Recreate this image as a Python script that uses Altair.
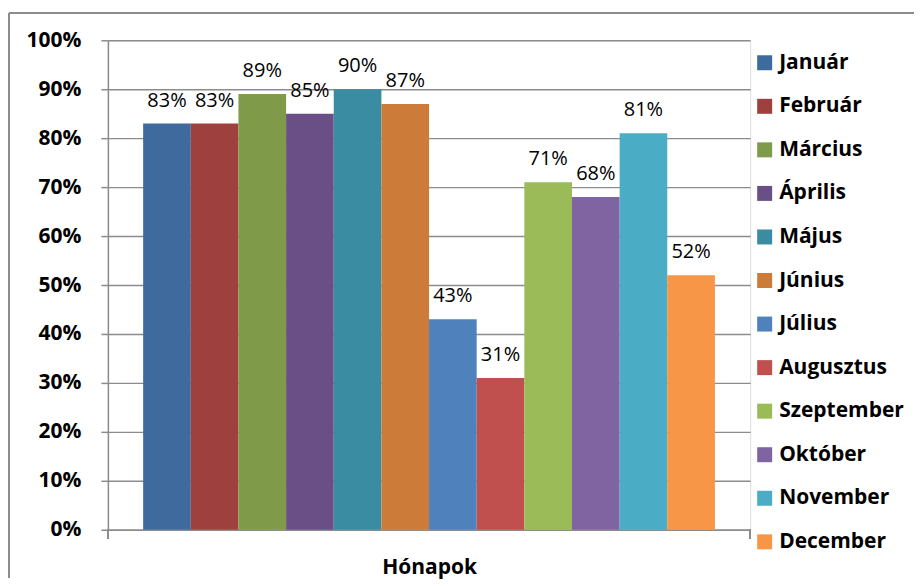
import altair as alt
import pandas as pd

months = ["Január", "Február", "Március", "Április", "Május", "Június",
          "Július", "Augusztus", "Szeptember", "Október", "November", "December"]
values = [83, 83, 89, 85, 90, 87, 43, 31, 71, 68, 81, 52]
colors = ["#3F6A9D", "#9E413E", "#7F9A48", "#6A4F86", "#3A8CA3", "#CD7B38",
          "#4F81BD", "#C0504D", "#9BBB59", "#8064A2", "#4BACC6", "#F79646"]

df = pd.DataFrame({"month": months, "value": [v / 100 for v in values]})

W, H = 643, 490
GRID = "#8C8C8C"
FONT = "Open Sans"

xs = alt.X("month:N", sort=months,
           scale=alt.Scale(paddingInner=0, paddingOuter=0.74),
           axis=alt.Axis(labels=False, ticks=False, domain=True, domainColor=GRID,
                         domainWidth=1.5, title="Hónapok", titleFont=FONT,
                         titleFontSize=21, titleFontWeight="bold", titleColor="black",
                         titlePadding=27))
ys = alt.Y("value:Q", scale=alt.Scale(domain=[0, 1]),
           axis=alt.Axis(values=[i / 10 for i in range(11)], format=".0%",
                         title=None, labelFont=FONT, labelFontSize=21,
                         labelFontWeight="bold", labelColor="black",
                         tickSize=7, tickColor=GRID, tickWidth=1.5,
                         labelPadding=20, domainColor=GRID, domainWidth=1.5,
                         gridColor=GRID, gridWidth=1.4))

base = alt.Chart(df)
bars = base.mark_bar(strokeWidth=0).encode(
    x=xs, y=ys,
    color=alt.Color("month:N", sort=months,
                    scale=alt.Scale(domain=months, range=colors),
                    legend=alt.Legend(title=None, orient="none", legendX=647, legendY=12,
                                      labelFont=FONT, labelFontSize=21,
                                      labelFontWeight="bold", labelColor="black",
                                      symbolType="square", symbolSize=225,
                                      symbolStrokeWidth=0, rowPadding=21.6,
                                      labelOffset=4)),
)
labels = base.mark_text(font=FONT, fontSize=20, baseline="alphabetic", dy=-17,
                        color="black").encode(
    x=alt.X("month:N", sort=months), y="value:Q",
    text=alt.Text("value:Q", format=".0%"))

rule_style = dict(color=GRID, strokeWidth=1.5)
tick_l = base.mark_rule(**rule_style).encode(x=alt.value(0), y=alt.value(H), y2=alt.value(H + 9))
tick_r = base.mark_rule(**rule_style).encode(x=alt.value(W), y=alt.value(H), y2=alt.value(H + 9))
border_l = base.mark_rule(**rule_style).encode(x=alt.value(-99), y=alt.value(-27), y2=alt.value(538))
border_t = base.mark_rule(**rule_style).encode(x=alt.value(-99), x2=alt.value(807), y=alt.value(-27))

chart = alt.layer(bars, labels, tick_l, tick_r, border_l, border_t).properties(
    width=W, height=H,
    padding={"left": 0, "top": 4, "right": 0, "bottom": 0},
).configure_view(stroke=None).configure(background="white")

chart.save("out.html", embed_options={"renderer": "svg", "actions": False})
